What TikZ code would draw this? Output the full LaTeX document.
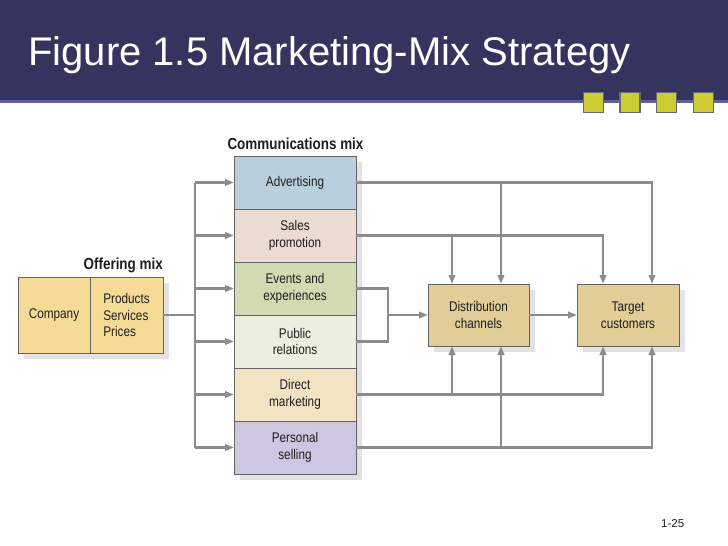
\documentclass[tikz,border=0pt]{standalone}
\usepackage{fontspec}
\setmainfont{Liberation Sans}
\newfontfamily\nar[FakeStretch=0.84]{Liberation Sans}
\usetikzlibrary{arrows.meta,shadows}
\definecolor{navy}{RGB}{53,52,95}
\definecolor{barline}{RGB}{96,96,156}
\definecolor{sq}{RGB}{204,204,51}
\definecolor{sqb}{RGB}{105,105,105}
\definecolor{adv}{RGB}{186,207,221}
\definecolor{sal}{RGB}{235,219,209}
\definecolor{evt}{RGB}{208,219,178}
\definecolor{pub}{RGB}{236,238,222}
\definecolor{dir}{RGB}{242,227,195}
\definecolor{per}{RGB}{206,199,226}
\definecolor{off}{RGB}{245,219,150}
\definecolor{tan}{RGB}{226,205,151}
\definecolor{shd}{RGB}{226,226,230}
\definecolor{conn}{RGB}{140,140,140}
\definecolor{txt}{RGB}{30,30,30}
\definecolor{bord}{RGB}{100,100,100}
\tikzset{
  shd/.style={drop shadow={shadow xshift=6pt,shadow yshift=-6pt,fill=shd,opacity=1}},
  bx/.style={draw=bord,line width=0.9pt,inner sep=0pt,outer sep=0pt,align=center,
    text=txt,font=\nar\fontsize{14}{16.5}\selectfont,shd},
  cbox/.style={bx,minimum width=122pt,minimum height=53pt},
  tbox/.style={bx,fill=tan,minimum width=101pt,minimum height=62pt},
  hd/.style={font=\nar\bfseries\fontsize{16}{18}\selectfont,text=txt,inner sep=0pt},
  ln/.style={draw=conn,line width=2.5pt},
  ar/.style={ln,-{Triangle[length=9pt,width=6.5pt]}},
  sqr/.style={fill=sq,draw=sqb,line width=1.8pt,minimum size=20pt,inner sep=0pt}
}
\begin{document}
\begin{tikzpicture}[x=1pt,y=-1pt]
\path[use as bounding box,fill=white] (0,0) rectangle (728,546);
% title bar
\fill[navy] (0,0) rectangle (728,100);
\fill[barline] (0,100) rectangle (728,102.5);
\node[anchor=base west,inner sep=0pt,text=white,font=\fontsize{40}{44}\selectfont] (title) at (28,65) {Figure 1.5 Marketing-Mix Strategy};
\node[sqr] (s1) at (593.5,102.5) {};
\node[sqr] (s2) at (630,102.5) {};
\node[sqr] (s3) at (666.5,102.5) {};
\node[sqr] (s4) at (703.5,102.5) {};
% communications mix
\node[hd,anchor=base] (hcomm) at (295.5,149) {Communications mix};
\node[cbox,fill=adv] (adv) at (295,182.5) {Advertising};
\node[cbox,fill=sal] (sal) at (295,235.5) {Sales\\promotion};
\node[cbox,fill=evt] (evt) at (295,288.5) {Events and\\experiences};
\node[cbox,fill=pub] (pub) at (295,341.5) {Public\\relations};
\node[cbox,fill=dir] (dir) at (295,394.5) {Direct\\marketing};
\node[cbox,fill=per] (per) at (295,447.5) {Personal\\selling};
% offering mix
\node[hd,anchor=base east] (hoff) at (163,269) {Offering mix};
\node[bx,fill=off,minimum width=72pt,minimum height=76pt] (comp) at (54,315) {Company};
\node[bx,fill=off,minimum width=73pt,minimum height=76pt,align=left] (prod) at (126.5,315) {Products\\Services\\Prices};
% distribution and target
\node[tbox] (dist) at (478.5,315) {Distribution\\channels};
\node[tbox,minimum width=102pt] (tgt) at (628,315) {Target\\customers};
% routing columns
\coordinate (bx) at (195,0);
\coordinate (c0) at (388,0);
\coordinate (c1) at (452,0);
\coordinate (c2) at (501,0);
\coordinate (c3) at (603,0);
\coordinate (c4) at (652,0);
% left bus
\draw[ln] (prod.east) -- (prod.east -| bx);
\draw[ln] (adv.west -| bx) -- (per.west -| bx);
\foreach \n in {adv,sal,evt,pub,dir,per}{
  \draw[ar] (\n.west -| bx) -- (\n.west);
}
% right side
\draw[ar] (adv.east) -| (c4 |- tgt.north);
\draw[ar] (adv.east -| c2) -- (c2 |- dist.north);
\draw[ar] (sal.east) -| (c3 |- tgt.north);
\draw[ar] (sal.east -| c1) -- (c1 |- dist.north);
\draw[ln] (evt.east) -| (c0 |- pub.east) -- (pub.east);
\draw[ar] (c0 |- dist.west) -- (dist.west);
\draw[ar] (dist.east) -- (tgt.west);
\draw[ar] (dir.east) -| (c3 |- tgt.south);
\draw[ar] (dir.east -| c1) -- (c1 |- dist.south);
\draw[ar] (per.east) -| (c4 |- tgt.south);
\draw[ar] (per.east -| c2) -- (c2 |- dist.south);
% page number
\node[anchor=base west,inner sep=0pt,text=txt,font=\fontsize{11.5}{13}\selectfont] (pg) at (661,527) {1-25};
\end{tikzpicture}
\end{document}
